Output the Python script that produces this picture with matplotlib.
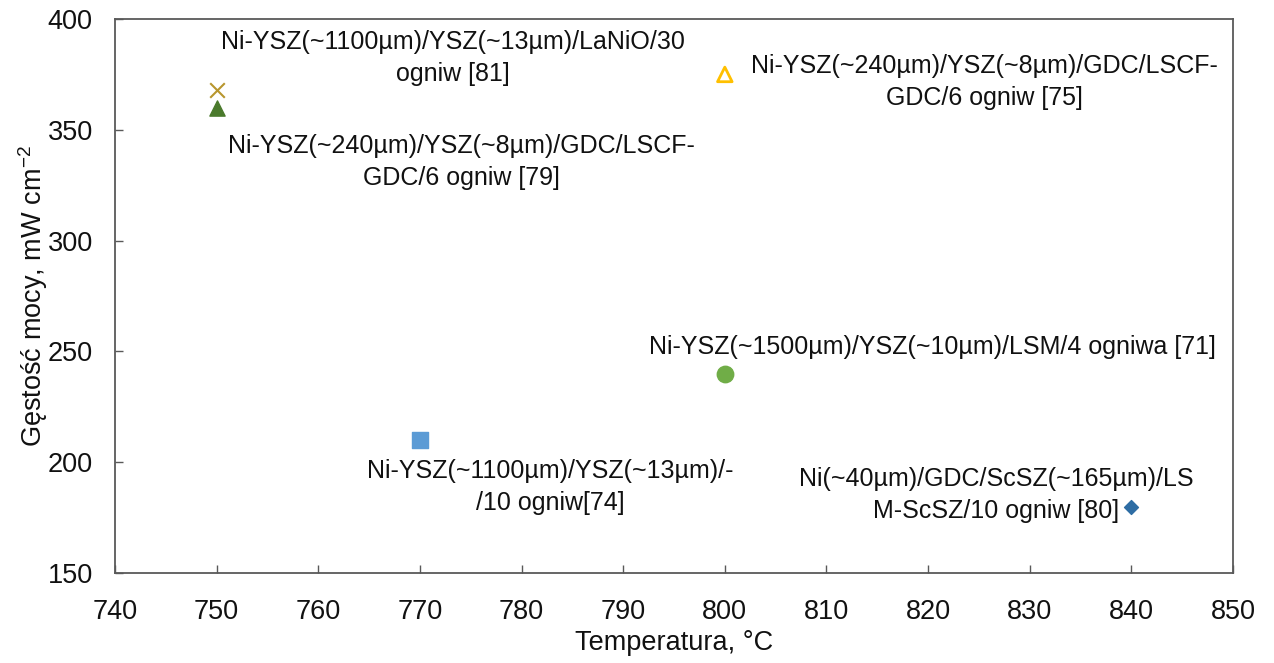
import matplotlib.pyplot as plt

plt.rcParams['font.family'] = ['Liberation Sans', 'DejaVu Sans']
plt.rcParams['mathtext.fontset'] = 'custom'
plt.rcParams['mathtext.rm'] = 'Liberation Sans'
plt.rcParams['mathtext.default'] = 'regular'

# Temperatura pracy i gęstość mocy dla poszczególnych stosów
temperatury = [750, 750, 800, 800, 770, 840]
gestosci = [368, 360, 375, 240, 210, 180]
opisy = [
    "Ni-YSZ(~1100µm)/YSZ(~13µm)/LaNiO/30\nogniw [81]",
    "Ni-YSZ(~240µm)/YSZ(~8µm)/GDC/LSCF-\nGDC/6 ogniw [79]",
    "Ni-YSZ(~240µm)/YSZ(~8µm)/GDC/LSCF-\nGDC/6 ogniw [75]",
    "Ni-YSZ(~1500µm)/YSZ(~10µm)/LSM/4 ogniwa [71]",
    "Ni-YSZ(~1100µm)/YSZ(~13µm)/-\n/10 ogniw[74]",
    "Ni(~40µm)/GDC/ScSZ(~165µm)/LS\nM-ScSZ/10 ogniw [80]",
]

# wygląd znaczników i położenie opisów
markery = [
    dict(marker='x', color='#B8962E', s=110, linewidths=1.5),
    dict(marker='^', color='#4A7A2C', s=120),
    dict(marker='^', facecolors='none', edgecolors='#FFC000', s=110, linewidths=2),
    dict(marker='o', color='#70AD47', s=140),
    dict(marker='s', color='#5B9BD5', s=130),
    dict(marker='D', color='#2E6DA4', s=50),
]
pozycje_opisow = [(773.2, 382.3), (774.1, 335.4), (825.5, 371.5),
                  (820.4, 252.0), (782.8, 188.9), (826.7, 185.2)]

fig = plt.figure(figsize=(12.74, 6.63), dpi=100)
ax = fig.add_axes([0.0903, 0.1357, 0.8775, 0.8356])

for t, g, styl in zip(temperatury, gestosci, markery):
    ax.scatter([t], [g], zorder=3, **styl)

for (px, py), tekst in zip(pozycje_opisow, opisy):
    ax.text(px, py, tekst, ha='center', va='center', fontsize=18,
            linespacing=1.4, color='#111111')

ax.set_xlim(740, 850)
ax.set_ylim(150, 400)
ax.set_xticks(range(740, 851, 10))
ax.set_yticks(range(150, 401, 50))
ax.tick_params(direction='in', length=6, width=1, color='#595959',
               labelsize=19.5, labelcolor='#111111')
ax.tick_params(axis='x', pad=19)
ax.tick_params(axis='y', pad=16)
for sp in ax.spines.values():
    sp.set_color('#595959')
    sp.set_linewidth(1.3)

ax.set_xlabel("Temperatura, °C", fontsize=19.5, labelpad=3, color='#111111')
ax.set_ylabel("Gęstość mocy, mW cm$^{-2}$", fontsize=19.5, labelpad=-2,
              color='#111111')

fig.savefig("out.png", dpi=100)
